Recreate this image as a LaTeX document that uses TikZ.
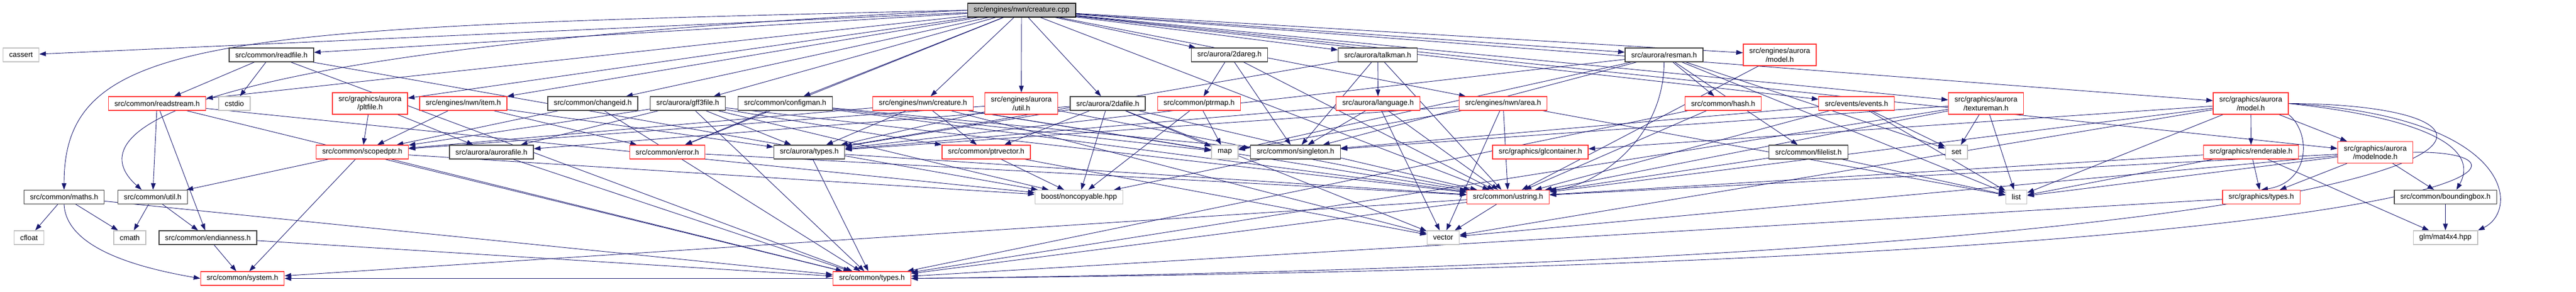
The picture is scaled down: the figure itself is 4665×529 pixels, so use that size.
\documentclass[tikz,border=0pt]{standalone}
\usepackage{fontspec}
\setmainfont{Liberation Sans}
\usetikzlibrary{arrows.meta, backgrounds}
\definecolor{edgeblue}{HTML}{191970}
\definecolor{boxblack}{HTML}{404040}
\definecolor{boxred}{HTML}{FF3333}
\definecolor{boxgray}{HTML}{BFBFBF}

\begin{document}
\begin{tikzpicture}[
        x=1pt, y=1pt,
        >={Triangle[length=12pt, width=8.5pt]},
        box/.style = {rectangle, draw=#1, fill=white, line width=1.3pt,
                    minimum height=25pt, inner xsep=11pt, inner ysep=2pt,
                    font=\fontsize{13.3}{15.5}\selectfont, align=center},
        tall/.style = {minimum height=39pt},
        dep/.style = {->, color=edgeblue, line width=0.9pt}
                    ]
        \useasboundingbox (0,0) rectangle (4665,-529);
        % top row
        \node (root) [box=black, fill=boxgray] at (1850,-18.5) {src/engines/nwn/creature.cpp};
        \node (cassert) [box=boxgray] at (38,-99.5) {cassert};
        \node (readfile) [box=boxblack] at (491.5,-99.5) {src/common/readfile.h};
        \node (dareg) [box=boxblack] at (2226.5,-99.5) {src/aurora/2dareg.h};
        \node (talkman) [box=boxblack] at (2495,-99.5) {src/aurora/talkman.h};
        \node (resman) [box=boxblack] at (3013.5,-99.5) {src/aurora/resman.h};
        \node (engmodel) [box=boxred, tall] at (3223,-99.5) {src/engines/aurora\\/model.h};
        % second row
        \node (readstream) [box=boxred] at (284.5,-187.5) {src/common/readstream.h};
        \node (cstdio) [box=boxgray] at (424.5,-187.5) {cstdio};
        \node (pltfile) [box=boxred, tall] at (670,-187.5) {src/graphics/aurora\\/pltfile.h};
        \node (item) [box=boxred] at (839,-187.5) {src/engines/nwn/item.h};
        \node (changeid) [box=boxblack] at (1073.5,-187.5) {src/common/changeid.h};
        \node (gff3) [box=boxblack] at (1245.5,-187.5) {src/aurora/gff3file.h};
        \node (configman) [box=boxblack] at (1422,-187.5) {src/common/configman.h};
        \node (creatureh) [box=boxred] at (1671.5,-187.5) {src/engines/nwn/creature.h};
        \node (engutil) [box=boxred, tall] at (1849.5,-187.5) {src/engines/aurora\\/util.h};
        \node (dafile) [box=boxblack] at (2006,-187.5) {src/aurora/2dafile.h};
        \node (ptrmap) [box=boxred] at (2171.5,-187.5) {src/common/ptrmap.h};
        \node (language) [box=boxred] at (2495.5,-187.5) {src/aurora/language.h};
        \node (area) [box=boxred] at (2722,-187.5) {src/engines/nwn/area.h};
        \node (hash) [box=boxred] at (3120.5,-187.5) {src/common/hash.h};
        \node (events) [box=boxred] at (3362,-187.5) {src/events/events.h};
        \node (textureman) [box=boxred, tall] at (3596.5,-187.5) {src/graphics/aurora\\/textureman.h};
        \node (gmodel) [box=boxred, tall] at (4076,-187.5) {src/graphics/aurora\\/model.h};
        % third row
        \node (scopedptr) [box=boxred] at (656,-275.5) {src/common/scopedptr.h};
        \node (aurorafile) [box=boxblack] at (890,-275.5) {src/aurora/aurorafile.h};
        \node (error) [box=boxred] at (1208.5,-275.5) {src/common/error.h};
        \node (auroratypes) [box=boxblack] at (1465.5,-275.5) {src/aurora/types.h};
        \node (ptrvector) [box=boxred] at (1786,-275.5) {src/common/ptrvector.h};
        \node (map) [box=boxgray] at (2218,-275.5) {map};
        \node (singleton) [box=boxblack] at (2346,-275.5) {src/common/singleton.h};
        \node (glcontainer) [box=boxred] at (2789.5,-275.5) {src/graphics/glcontainer.h};
        \node (filelist) [box=boxblack] at (3275,-275.5) {src/common/filelist.h};
        \node (set) [box=boxgray] at (3543,-275.5) {set};
        \node (renderable) [box=boxred] at (4076.5,-275.5) {src/graphics/renderable.h};
        \node (modelnode) [box=boxred, tall] at (4301.5,-276) {src/graphics/aurora\\/modelnode.h};
        % fourth row
        \node (maths) [box=boxblack] at (116,-357) {src/common/maths.h};
        \node (util) [box=boxblack] at (276.5,-357) {src/common/util.h};
        \node (noncopyable) [box=boxgray] at (1954,-357) {boost/noncopyable.hpp};
        \node (ustring) [box=boxred] at (2731,-357) {src/common/ustring.h};
        \node (list) [box=boxgray] at (3651.5,-357) {list};
        \node (gtypes) [box=boxred] at (4095,-357) {src/graphics/types.h};
        \node (boundingbox) [box=boxblack] at (4428.5,-357) {src/common/boundingbox.h};
        % fifth and last rows
        \node (cfloat) [box=boxgray] at (52.5,-430.5) {cfloat};
        \node (cmath) [box=boxgray] at (235,-430.5) {cmath};
        \node (endianness) [box=boxblack] at (376.5,-430.5) {src/common/endianness.h};
        \node (vector) [box=boxgray] at (2613.5,-430.5) {vector};
        \node (mat4x4) [box=boxgray] at (4428.5,-430.5) {glm/mat4x4.hpp};
        \node (system) [box=boxred] at (439,-504.5) {src/common/system.h};
        \node (ctypes) [box=boxred] at (1579,-504.5) {src/common/types.h};
        %
        \begin{scope}[on background layer]
        \draw[dep] (root) to (cassert);
        \draw[dep] (root.west) .. controls (400,-50) and (116,-60) .. (maths.north);
        \draw[dep] (root.west) .. controls (250,-90) and (150,-250) .. ([xshift=-20pt]util.north);
        \draw[dep] (root) to (readstream);
        \draw[dep] (root) to (readfile);
        \draw[dep] (root) to (pltfile);
        \draw[dep] (root) to (item);
        \draw[dep] (root) to (changeid);
        \draw[dep] (root) to (gff3);
        \draw[dep] (root) to (configman);
        \draw[dep] (root) to (creatureh);
        \draw[dep] (root) to (engutil);
        \draw[dep] (root) to (dafile);
        \draw[dep] (root) to (dareg);
        \draw[dep] (root) to (talkman);
        \draw[dep] (root) to (area);
        \draw[dep] (root) to (resman);
        \draw[dep] (root) to (engmodel);
        \draw[dep] (root) to (events);
        \draw[dep] (root) to (textureman);
        \draw[dep] (root) to (gmodel);
        \draw[dep] (root) to (modelnode);
        \draw[dep] (root) to (ustring);
        \draw[dep] (root) to (error);
        %
        \draw[dep] (readfile) to (readstream);
        \draw[dep] (readfile) to (cstdio);
        \draw[dep] (readfile) to (noncopyable);
        \draw[dep] (readfile) to (ctypes);
        \draw[dep] (readstream) to (util);
        \draw[dep] (readstream) to (endianness);
        \draw[dep] (readstream) to (noncopyable);
        \draw[dep] (readstream) to (ctypes);
        \draw[dep] (maths) to (cfloat);
        \draw[dep] (maths) to (cmath);
        \draw[dep] (maths.south) .. controls (120,-450) and (250,-485) .. (system.west);
        \draw[dep] (maths) to (ctypes);
        \draw[dep] (util) to (cmath);
        \draw[dep] (util) to (endianness);
        \draw[dep] (endianness) to (system);
        \draw[dep] (endianness) to (ctypes);
        \draw[dep] (ctypes) to (system);
        %
        \draw[dep] (pltfile) to (scopedptr);
        \draw[dep] (pltfile) to (aurorafile);
        \draw[dep] (scopedptr) to (util);
        \draw[dep] (scopedptr) to (system);
        \draw[dep] (scopedptr) to (noncopyable);
        \draw[dep] (scopedptr) to (ctypes);
        \draw[dep] (item) to (scopedptr);
        \draw[dep] (item) to (error);
        \draw[dep] (item) to (auroratypes);
        \draw[dep] (changeid) to (scopedptr);
        \draw[dep] (changeid) to (ctypes);
        \draw[dep] (gff3) to (scopedptr);
        \draw[dep] (gff3) to (aurorafile);
        \draw[dep] (gff3) to (auroratypes);
        \draw[dep] (gff3) to (ptrvector);
        \draw[dep] (gff3) to (noncopyable);
        \draw[dep] (gff3) to (ustring);
        \draw[dep] (gff3) to (ctypes);
        \draw[dep] (configman) to (error);
        \draw[dep] (configman) to (map);
        \draw[dep] (configman) to (singleton);
        \draw[dep] (configman) to (ustring);
        \draw[dep] (error) to (ustring);
        \draw[dep] (aurorafile) to (ctypes);
        \draw[dep] (auroratypes) to (ctypes);
        \draw[dep] (auroratypes) to (ustring);
        %
        \draw[dep] (creatureh) to (scopedptr);
        \draw[dep] (creatureh) to (auroratypes);
        \draw[dep] (creatureh) to (ptrvector);
        \draw[dep] (creatureh) to (map);
        \draw[dep] (creatureh) to (ustring);
        \draw[dep] (creatureh) to (vector);
        \draw[dep] (engutil) to (scopedptr);
        \draw[dep] (engutil) to (auroratypes);
        \draw[dep] (engutil) to (ustring);
        \draw[dep] (dafile) to (aurorafile);
        \draw[dep] (dafile) to (ptrvector);
        \draw[dep] (dafile) to (map);
        \draw[dep] (dafile) to (noncopyable);
        \draw[dep] (dafile) to (ustring);
        \draw[dep] (dafile) to (vector);
        \draw[dep] (dafile) to (auroratypes);
        \draw[dep] (dareg) to (ptrmap);
        \draw[dep] (dareg) to (singleton);
        \draw[dep] (dareg) to (ustring);
        \draw[dep] (ptrmap) to (map);
        \draw[dep] (ptrmap) to (noncopyable);
        \draw[dep] (ptrvector) to (noncopyable);
        \draw[dep] (ptrvector) to (vector);
        \draw[dep] (singleton) to (noncopyable);
        %
        \draw[dep] (talkman) to (language);
        \draw[dep] (talkman) to (singleton);
        \draw[dep] (talkman) to (auroratypes);
        \draw[dep] (talkman) to (ustring);
        \draw[dep] (language) to (singleton);
        \draw[dep] (language) to (auroratypes);
        \draw[dep] (language) to (ustring);
        \draw[dep] (language) to (vector);
        \draw[dep] (area) to (auroratypes);
        \draw[dep] (area) to (map);
        \draw[dep] (area) to (ustring);
        \draw[dep] (area) to (vector);
        \draw[dep] (area) to (list);
        \draw[dep] (resman) to (hash);
        \draw[dep] (resman) to (filelist);
        \draw[dep] (resman) to (auroratypes);
        \draw[dep] (resman) to (map);
        \draw[dep] (resman) to (singleton);
        \draw[dep] (resman) to (set);
        \draw[dep] (resman) to (list);
        \draw[dep] (resman.south) .. controls (3013,-260) and (2880,-340) .. (ustring.north east);
        \draw[dep] (hash) to (ustring);
        \draw[dep] (hash) to (ctypes);
        \draw[dep] (engmodel) to (ustring);
        \draw[dep] (events) to (singleton);
        \draw[dep] (events) to (set);
        \draw[dep] (events) to (list);
        \draw[dep] (events) to (ustring);
        \draw[dep] (filelist) to (ustring);
        \draw[dep] (filelist) to (list);
        %
        \draw[dep] (textureman) to (set);
        \draw[dep] (textureman) to (list);
        \draw[dep] (textureman) to (singleton);
        \draw[dep] (textureman) to (ustring);
        \draw[dep] (textureman) to (ctypes);
        \draw[dep] (gmodel) to (renderable);
        \draw[dep] (gmodel) to (modelnode);
        \draw[dep] (gmodel.south east) .. controls (4185,-240) and (4185,-330) .. (gtypes.north);
        \draw[dep] (gmodel.east) .. controls (4400,-215) and (4490,-270) .. ([xshift=20pt]boundingbox.north);
        \draw[dep] (gmodel.east) .. controls (4550,-210) and (4565,-380) .. (mat4x4.north east);
        \draw[dep] (gmodel) to (glcontainer);
        \draw[dep] (gmodel) to (list);
        \draw[dep] (gmodel) to (ustring);
        \draw[dep] (gmodel) to (vector);
        \draw[dep] (gmodel.east) .. controls (4700,-190) and (4620,-470) .. (ctypes.east);
        \draw[dep] (renderable) to (gtypes);
        \draw[dep] (renderable) to (list);
        \draw[dep] (renderable) to (ustring);
        \draw[dep] (renderable) to (mat4x4);
        \draw[dep] (modelnode) to (boundingbox);
        \draw[dep] (modelnode) to (gtypes);
        \draw[dep] (modelnode) to (list);
        \draw[dep] (modelnode) to (ustring);
        \draw[dep] (modelnode) to (vector);
        \draw[dep] (modelnode.east) .. controls (4640,-270) and (4600,-478) .. (ctypes.east);
        \draw[dep] (gtypes) to (ctypes);
        \draw[dep] (boundingbox) to (mat4x4);
        \draw[dep] (ustring) to (vector);
        \draw[dep] (ustring) to (ctypes);
        \draw[dep] (ustring) to (system);
        \end{scope}
    \end{tikzpicture}
\end{document}
